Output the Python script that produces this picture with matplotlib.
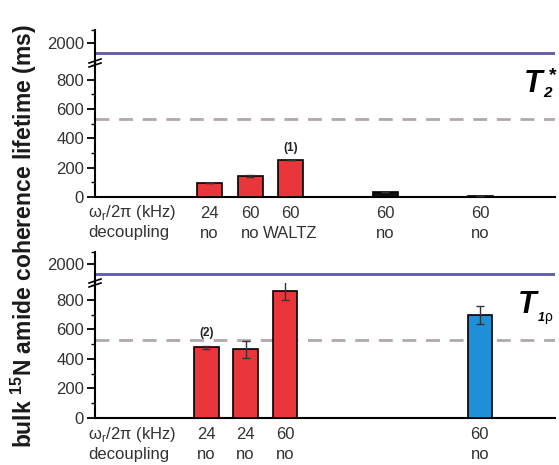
import numpy as np
import matplotlib.pyplot as plt

plt.rcParams['font.family'] = ['Liberation Sans', 'DejaVu Sans']

# top panel (T2*)
t2_pos = [2.79, 3.78, 4.76, 7.07, 9.38]
t2_val = [96, 144, 253, 34, 10]
t2_err = [0, 5, 0, 0, 0]
t2_col = ['#e8363b', '#e8363b', '#e8363b', '#111111', '#111111']
t2_freq = ['24', '60', '60', '60', '60']
t2_dec = ['no', 'no', 'WALTZ', 'no', 'no']

# bottom panel (T1rho)
t1_pos = [2.71, 3.67, 4.63, 9.37]
t1_val = [478, 465, 862, 698]
t1_err = [12, 60, 65, 62]
t1_col = ['#e8363b', '#e8363b', '#e8363b', '#1f8fd8']
t1_freq = ['24', '24', '60', '60']
t1_dec = ['no', 'no', 'no', 'no']

bulk_line = 1850
dash_line = 530

W, H = 559, 465
fig = plt.figure(figsize=(W / 100, H / 100), dpi=100)

def px(x0, y0, x1, y1):
    return [x0 / W, 1 - y1 / H, (x1 - x0) / W, (y1 - y0) / H]

tick_col = '#333333'

def panel(top, brk, zero, pos, val, err, col, freq, dec):
    axu = fig.add_axes(px(95, top, 555, brk))
    axl = fig.add_axes(px(95, brk, 555, zero))
    for a in (axu, axl):
        a.set_xlim(0, 11.2)
        a.patch.set_alpha(0)
        for s in ['top', 'right']:
            a.spines[s].set_visible(False)
        a.spines['left'].set_linewidth(1.5)
        a.tick_params(axis='y', which='major', length=6, width=1.3, labelsize=12,
                      labelcolor=tick_col, pad=2)
        a.tick_params(axis='y', which='minor', length=3, width=1.0)
        a.set_xticks([])
    axu.spines['bottom'].set_visible(False)
    axl.spines['bottom'].set_linewidth(1.5)
    axu.set_ylim(1700, 2200)
    axu.set_yticks([2000])
    axu.set_yticks([2200], minor=True)
    axl.set_ylim(0, 915)
    axl.set_yticks([0, 200, 400, 600, 800])
    axl.set_yticks(np.arange(100, 901, 200), minor=True)

    axu.axhline(bulk_line, color='#5b5aa8', lw=2)
    axl.axhline(dash_line, color='#b3a8a8', lw=2, ls=(0, (5, 3.5)))
    axl.bar(pos, val, width=0.6, color=col, edgecolor='black', linewidth=1.2, zorder=3)
    axl.errorbar(pos, val, yerr=err, fmt='none', ecolor='#333333', elinewidth=1,
                 capsize=3, zorder=4)

    # axis break marks
    tr = axl.transAxes
    h = (zero - brk)
    for dy in (0, 4):
        axl.plot([-6 / 460, 6 / 460], [1 + (dy - 4) / h, 1 + dy / h],
                 transform=tr, color='black', lw=1.2, clip_on=False)

    trx = axl.get_xaxis_transform()
    axl.annotate(r'ω$_\mathregular{r}$/2π (kHz)', xy=(0, 0), xycoords=trx,
                 xytext=(-7, -16), textcoords='offset pixels', ha='left', va='center',
                 fontsize=12, color=tick_col)
    axl.annotate('decoupling', xy=(0, 0), xycoords=trx,
                 xytext=(-7, -36), textcoords='offset pixels', ha='left', va='center',
                 fontsize=12, color=tick_col)
    for x, f, d in zip(pos, freq, dec):
        axl.annotate(f, xy=(x, 0), xycoords=trx, xytext=(0, -16),
                     textcoords='offset pixels', ha='center', va='center',
                     fontsize=12, color=tick_col)
        axl.annotate(d, xy=(x, 0), xycoords=trx, xytext=(0, -36),
                     textcoords='offset pixels', ha='center', va='center',
                     fontsize=12, color=tick_col)
    return axu, axl

ax1u, ax1l = panel(30, 63, 197, t2_pos, t2_val, t2_err, t2_col, t2_freq, t2_dec)
ax2u, ax2l = panel(252, 283, 418, t1_pos, t1_val, t1_err, t1_col, t1_freq, t1_dec)

ax1l.annotate('(1)', xy=(t2_pos[2], t2_val[2]), xytext=(0, 12), textcoords='offset pixels',
              ha='center', va='center', fontsize=8.5, fontweight='bold', color='#222222')
ax2l.annotate('(2)', xy=(t1_pos[0], t1_val[0]), xytext=(0, 14), textcoords='offset pixels',
              ha='center', va='center', fontsize=8.5, fontweight='bold', color='#222222')

# panel labels
fig.text(524 / W, 1 - 92 / H, 'T', fontsize=22, fontweight='bold', style='italic',
         ha='left', va='baseline')
fig.text(543 / W, 1 - 97 / H, '2', fontsize=11, fontweight='bold', style='italic',
         ha='left', va='baseline')
fig.text(549 / W, 1 - 80 / H, '*', fontsize=14, fontweight='bold',
         ha='left', va='baseline')
fig.text(518 / W, 1 - 313 / H, 'T', fontsize=22, fontweight='bold', style='italic',
         ha='left', va='baseline')
fig.text(538 / W, 1 - 321 / H, '1', fontsize=9, fontweight='bold', style='italic',
         ha='left', va='baseline')
fig.text(544 / W, 1 - 321 / H, 'ρ', fontsize=10,
         ha='left', va='baseline')

fig.text(24 / W, 1 - 236 / H, 'bulk $^{\\mathregular{15}}$N amide coherence lifetime (ms)',
         rotation=90, fontsize=16.5, fontweight='bold', ha='center', va='center',
         color='#1a1a1a')

fig.savefig('out.png', dpi=100)
